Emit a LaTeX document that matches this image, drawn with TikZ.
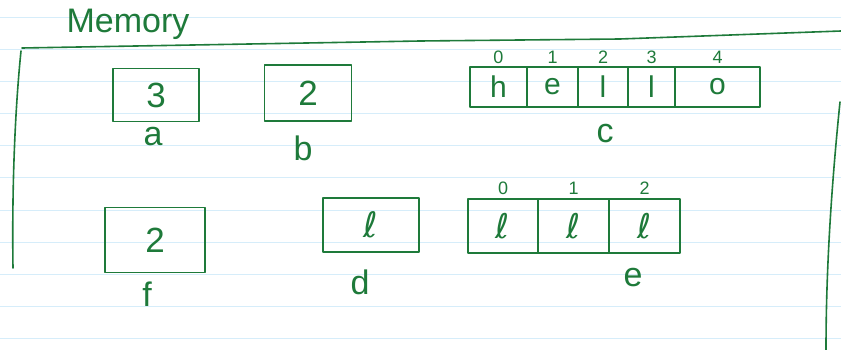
\documentclass[tikz,border=0pt]{standalone}
\usepackage{fontspec}
\setmainfont{Liberation Sans}
\newfontfamily\ellfont{DejaVu Sans}
\usepackage{tikz}
\usetikzlibrary{positioning}
\definecolor{ink}{RGB}{30,122,58}
\definecolor{paperrule}{RGB}{214,237,250}
\newcommand{\ellsym}{{\ellfont ℓ}}

\begin{document}
\begin{tikzpicture}[x=1pt,y=-1pt,
pen/.style={draw=ink, line width=1.6pt, line join=round, line cap=round},
box/.style={rectangle, pen, text=ink, font=\fontsize{35}{35}\selectfont, inner sep=0pt},
cell/.style={rectangle, pen, text=ink, font=\fontsize{30}{30}\selectfont, inner sep=0pt, outer sep=0pt},
idx/.style={text=ink, font=\fontsize{18}{18}\selectfont, inner sep=1pt},
varname/.style={text=ink, font=\fontsize{34}{34}\selectfont, inner sep=0pt},
]
\fill[white] (0,0) rectangle (841,350);
\useasboundingbox (0,0) rectangle (841,350);
%lined paper
\foreach \y in {18,50,...,338}
  \draw[paperrule, line width=1pt] (0,\y) -- (841,\y);

%memory frame
\node (mem) [varname] at (128,24) {Memory};
\draw[pen] (22,48) -- (420,41) -- (620,39) -- (841,31);
\draw[pen] (21,51) .. controls (14,120) and (12,200) .. (13,268);
\draw[pen] (840,102) .. controls (830,200) and (826,280) .. (826,350);

%first row
\node (a) [box, minimum width=86pt, minimum height=53pt] at (156,95) {3};
\node (la) [varname] at (153,137) {a};
\node (b) [box, minimum width=87pt, minimum height=56pt] at (308,93) {2};
\node (lb) [varname] at (303,148) {b};

\node (c0) [cell, minimum width=57pt, minimum height=40pt] at (498.5,87) {h};
\node (c1) [cell, minimum width=51pt, minimum height=40pt, right=0pt of c0] {e};
\node (c2) [cell, minimum width=50pt, minimum height=40pt, right=0pt of c1] {l};
\node (c3) [cell, minimum width=47pt, minimum height=40pt, right=0pt of c2] {l};
\node (c4) [cell, minimum width=85pt, minimum height=40pt, right=0pt of c3] {o};
\foreach \i in {0,...,4}
  \node (ic\i) [idx, above=2pt of c\i] {\i};
\node (lc) [varname] at (605,134) {c};

%second row
\node (f) [box, minimum width=100pt, minimum height=65pt] at (155,240) {2};
\node (lf) [varname] at (147,294) {f};
\node (d) [box, minimum width=96pt, minimum height=54pt] at (371,225) {\ellsym};
\node (ld) [varname] at (360,282) {d};

\node (e0) [cell, minimum width=70pt, minimum height=54pt, font=\fontsize{34}{34}\selectfont] at (503,226) {\ellsym};
\node (e1) [cell, minimum width=71pt, minimum height=54pt, font=\fontsize{34}{34}\selectfont, right=0pt of e0] {\ellsym};
\node (e2) [cell, minimum width=71pt, minimum height=54pt, font=\fontsize{34}{34}\selectfont, right=0pt of e1] {\ellsym};
\foreach \i in {0,...,2}
  \node (ie\i) [idx, above=3pt of e\i] {\i};
\node (le) [varname] at (633,278) {e};
\end{tikzpicture}
\end{document}
